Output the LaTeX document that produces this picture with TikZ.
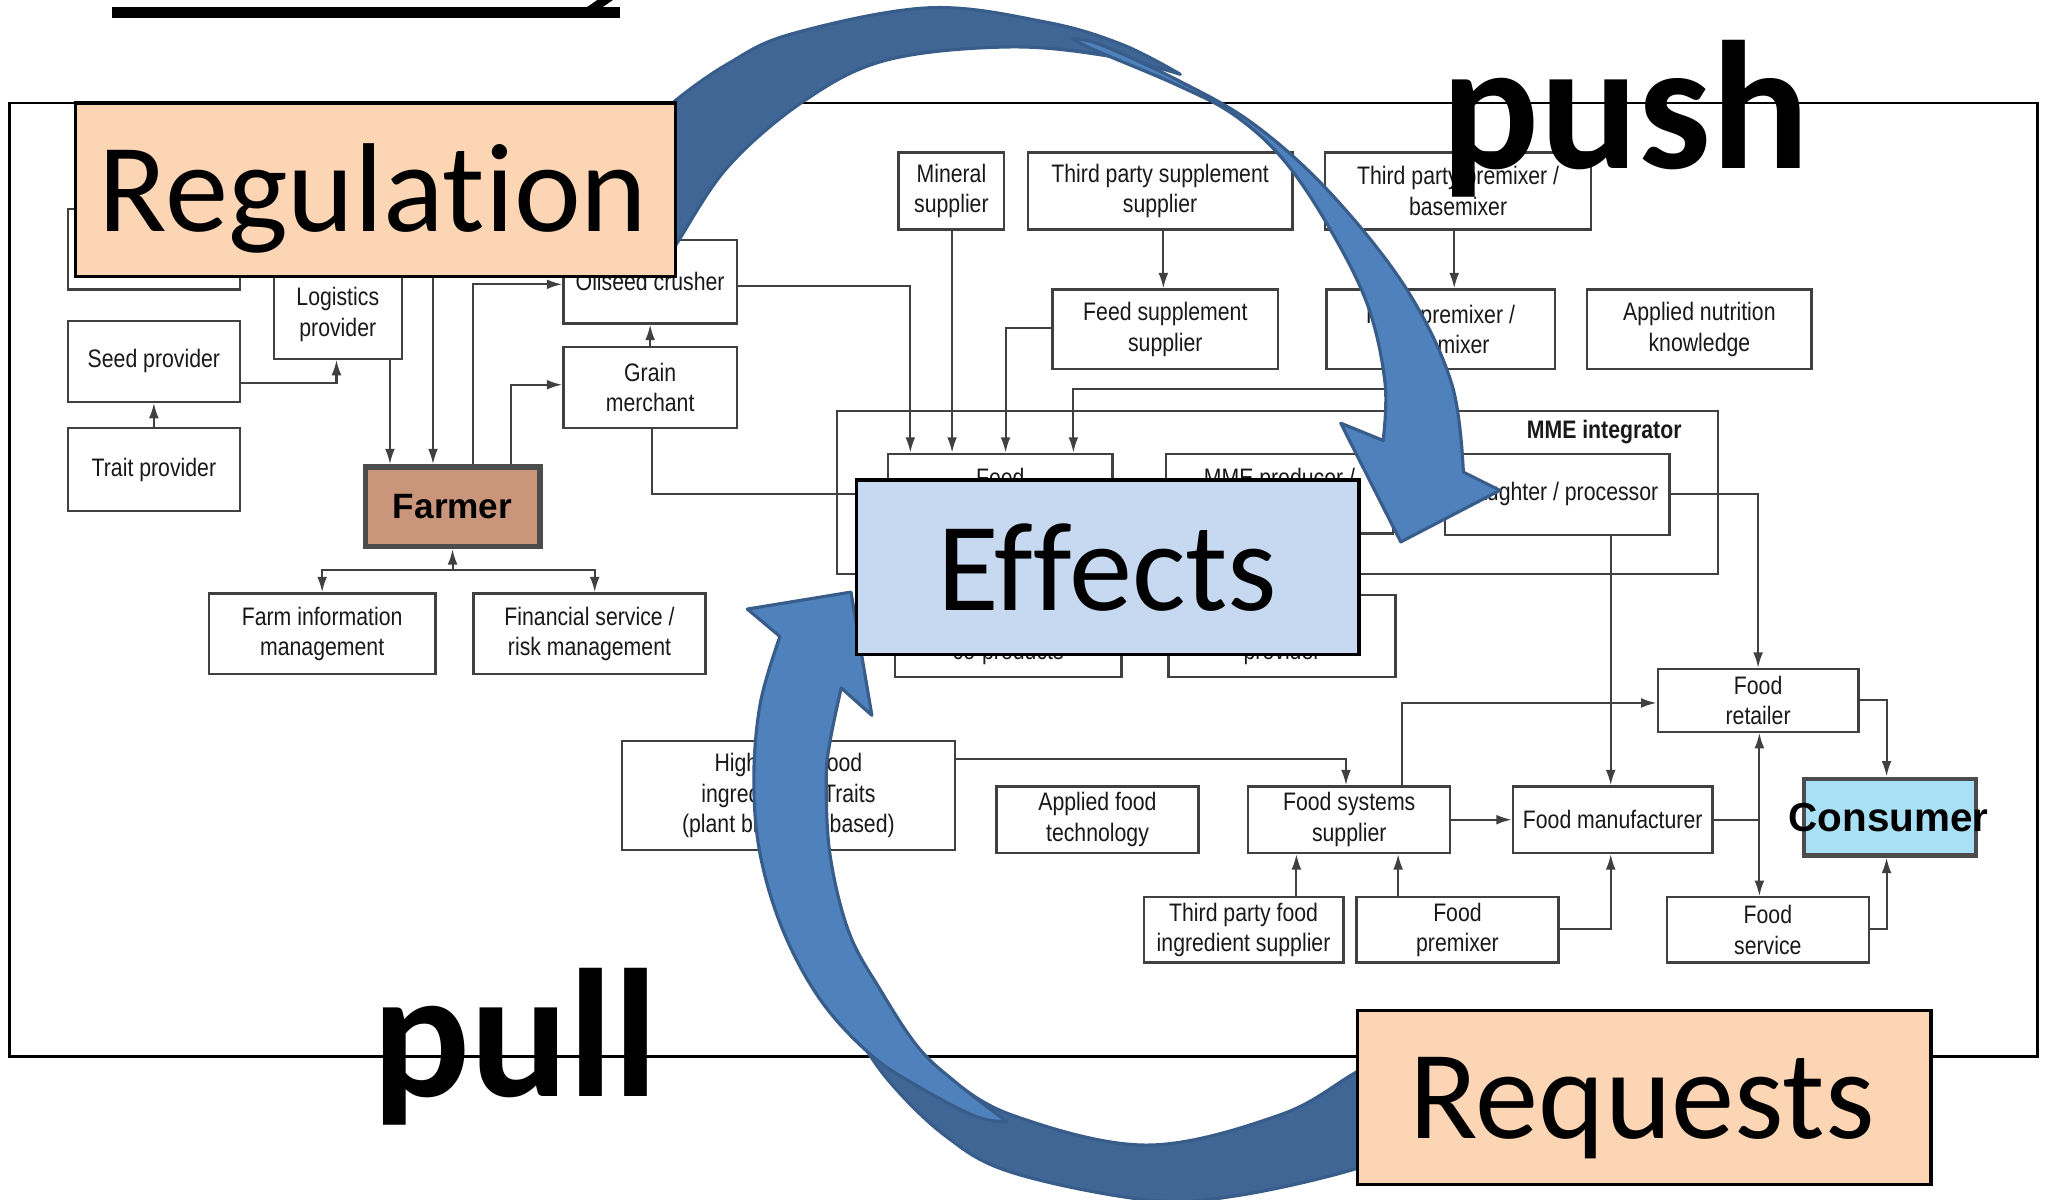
\documentclass[tikz,border=0pt]{standalone}
\usepackage{fontspec}
\setmainfont{Carlito}
\newfontfamily\chartfont[FakeStretch=0.84]{Liberation Sans}
\newfontfamily\labelfont{Liberation Sans}
\usetikzlibrary{arrows.meta,positioning}

\definecolor{peach}{RGB}{252,213,180}
\definecolor{effblue}{RGB}{198,217,241}
\definecolor{arrowfront}{RGB}{79,129,189}
\definecolor{arrowback}{RGB}{64,102,150}
\definecolor{arrowedge}{RGB}{56,93,138}
\definecolor{farmbrown}{RGB}{201,150,124}
\definecolor{consblue}{RGB}{168,224,245}

\tikzset{
  boxsize/.style 2 args={minimum width={#1*0.13042mm}, minimum height={#2*0.13042mm}},
  chartbox/.style={draw=black!75, line width=0.65pt, fill=white, inner sep=0pt,
    align=center, text=black!90, font=\chartfont\fontsize{7.2}{8.7}\selectfont},
  chartline/.style={draw=black!75, line width=0.6pt},
  flow/.style={chartline, -{Latex[length=4.4pt,width=2.8pt]}},
  chartword/.style={inner sep=0pt, anchor=base, text=black!90,
    font=\chartfont\fontsize{7.2}{8.7}\selectfont},
  bigbox/.style={draw=black, line width=0.9pt, inner sep=0pt},
  bigword/.style={inner sep=0pt, anchor=base, font=\fontsize{36}{40}\selectfont},
  boldword/.style={inner sep=0pt, anchor=base west, font=\bfseries\fontsize{52}{56}\selectfont},
  backband/.style={fill=arrowback, draw=arrowedge, line width=0.9pt, line join=round},
  frontband/.style={fill=arrowfront, draw=arrowedge, line width=0.9pt, line join=round}
}

\begin{document}
\begin{tikzpicture}[x=0.13042mm, y=-0.13042mm]
  \useasboundingbox (0,0) rectangle (1568,920);

  % Cut title above
    \fill (86,5.5) rectangle (475.5,14);
    \fill (458,0) -- (470,0) -- (462,5.5) -- (450,5.5) -- cycle;

  % Frame round the chain
    \draw[line width=0.8pt] (7,79) rectangle (1562,810);

  % Integrator frame
    \node[chartbox, fill=none, boxsize={675}{125}] (integ) at (979.5,377.5) {};
    \node[chartword, font=\chartfont\bfseries\fontsize{7.2}{8.7}\selectfont] (integlbl) at (1230,336) {MME integrator};

  % Farm side boxes
    \node[chartbox, boxsize={132}{62}] (inputs) at (118,191) {};
    \node[chartbox, boxsize={132}{62}] (seed) at (118,277) {Seed provider};
    \node[chartbox, boxsize={132}{64}] (trait) at (118,360) {Trait provider};
    \node[chartbox, boxsize={98}{68}] (logi) at (259,241) {Logistics\\provider};
    \node[chartbox, boxsize={133}{64}] (oil) at (498.5,216) {Oilseed crusher};
    \node[chartbox, boxsize={133}{62}] (grain) at (498.5,297) {Grain\\merchant};
    \node[chartbox, boxsize={174}{62}] (fim) at (247,486) {Farm information\\management};
    \node[chartbox, boxsize={178}{62}] (fin) at (452,486) {Financial service /\\risk management};
    \node[chartbox, boxsize={134}{61}, fill=farmbrown, draw=black!70, line width=1.5pt, text=black,
      font=\labelfont\bfseries\fontsize{10}{12}\selectfont] (farmer) at (347,388.5) {Farmer};

  % Feed side boxes
    \node[chartbox, boxsize={81}{59}] (mineral) at (729.5,146.5) {Mineral\\supplier};
    \node[chartbox, boxsize={203}{59}] (tpss) at (889.5,146.5) {Third party supplement\\supplier};
    \node[chartbox, boxsize={204}{59}] (tppm) at (1118,146.5) {Third party premixer /\\basemixer};
    \node[chartbox, boxsize={173}{61}] (fss) at (893.5,252.5) {Feed supplement\\supplier};
    \node[chartbox, boxsize={175}{61}] (prem) at (1104.5,252.5) {Feed premixer /\\basemixer};
    \node[chartbox, boxsize={172}{61}] (ank) at (1303,252.5) {Applied nutrition\\knowledge};
    \node[chartbox, boxsize={172}{62}] (feed) at (767,379) {};
    \node[chartbox, boxsize={174}{61}] (mmep) at (981,378.5) {};
    \node[chartbox, boxsize={172}{62}] (slau) at (1194,379) {Slaughter / processor};
    \node[chartbox, boxsize={174}{63}] (coprod) at (773,487.5) {};
    \node[chartbox, boxsize={174}{63}] (provd) at (983,487.5) {};
    \node[chartword] (feedtxt) at (767,373) {Feed};
    \node[chartword] (mmeptxt) at (981,373) {MME producer /};
    \node[chartword] (coprodtxt) at (773,506) {co-products};
    \node[chartword] (provdtxt) at (983,506) {provider};

  % Food side boxes
    \node[chartbox, boxsize={255}{84}] (high) at (604.5,610) {High value food\\ingredients / Traits\\(plant breeding based)};
    \node[chartbox, boxsize={155}{51}] (aft) at (841.5,628.5) {Applied food\\technology};
    \node[chartbox, boxsize={155}{51}] (fsys) at (1034.5,628.5) {Food systems\\supplier};
    \node[chartbox, boxsize={153}{51}] (fman) at (1236.5,628.5) {Food manufacturer};
    \node[chartbox, boxsize={154}{48}] (fret) at (1348,537) {Food\\retailer};
    \node[chartbox, boxsize={153}{50}] (tpfi) at (953.5,713) {Third party food\\ingredient supplier};
    \node[chartbox, boxsize={155}{50}] (fprem) at (1117.5,713) {Food\\premixer};
    \node[chartbox, boxsize={155}{50}] (fserv) at (1355.5,713) {Food\\service};
    \node[chartbox, boxsize={132}{59}, fill=consblue, draw=black!70, line width=1.2pt] (cons) at (1449,626.5) {};

  % Left side links
    \draw[flow] (trait) -- (seed);
    \draw[flow] (seed.east |- 0,294) -| (logi.south -| 258,0);
    \draw[flow] (inputs.east |- 0,190) -| (farmer.north -| 332,0);
    \draw[flow] (logi.south -| 299,0) -- (farmer.north -| 299,0);
    \draw[flow] (farmer.north -| 363,0) |- (oil.west |- 0,218);
    \draw[flow] (farmer.north -| 392,0) |- (grain.west |- 0,295);
    \draw[flow] (grain) -- (oil);
    \draw[flow] (grain.south -| 500,0) |- (feed.west |- 0,379);
    \coordinate (fork) at (347,437);
    \draw[flow] (fork) -- (farmer.south -| fork);
    \draw[flow] (fork) -| (fim.north -| 247,0);
    \draw[flow] (fork) -| (fin.north -| 456,0);

  % Feed links
    \draw[flow] (oil.east |- 0,219) -| (feed.north -| 698,0);
    \draw[flow] (fss.west |- 0,251.5) -| (feed.north -| 771,0);
    \coordinate (premdrop) at (1080,298);
    \draw[flow] (prem.south -| premdrop) -- (premdrop) -| (feed.north -| 823,0);
    \foreach \from/\to/\x in {mineral/feed/730, tpss/fss/892, tppm/prem/1115, slau/fman/1235} {
      \draw[flow] (\from.south -| \x,0) -- (\to.north -| \x,0);
    }
    \draw[flow] (slau.east |- 0,378.5) -| (fret.north -| 1348,0);

  % Food links
    \draw[flow] (high.east |- 0,582) -| (fsys.north -| 1032,0);
    \draw[flow] (fsys) -- (fman);
    \draw[flow] (fsys.north -| 1075,0) |- (fret.west |- 0,539);
    \foreach \from/\to/\x in {tpfi/fsys/994, fprem/fsys/1072} {
      \draw[flow] (\from.north -| \x,0) -- (\to.south -| \x,0);
    }
    \draw[flow] (fprem.east |- 0,712) -| (fman.south -| 1235,0);
    \coordinate (split) at (1349,629);
    \draw[chartline] (fman.east |- split) -- (split);
    \draw[flow] (split) -- (fret.south -| split);
    \draw[flow] (split) -- (fserv.north -| split);
    \draw[flow] (fret.east |- 0,537) -| (cons.north -| 1446.5,0);
    \draw[flow] (fserv.east |- 0,712) -| (cons.south -| 1446.5,0);
    \node[inner sep=0pt, font=\labelfont\bfseries\fontsize{11.5}{13}\selectfont] (constxt) at (1448,627) {Consumer};

  % Pull arrow
    \draw[backband]
      plot[smooth, tension=0.6] coordinates {(650,782) (680,827) (725,871) (776,899) (879,920) (947,917) (1040,896) (1095,872)}
      -- (1095,790)
      --plot[smooth, tension=0.6] coordinates {(1095,790) (1040,822) (981,855) (879,878) (776,855) (720,822) (680,798) (650,782)}
      -- cycle;
    \draw[frontband]
      plot[smooth, tension=0.6] coordinates {(772,860) (748,856) (704,833) (668,809) (630,768) (601,715) (583,656) (578,598) (583,539) (598,488)}
      -- (573,467) -- (652.5,454) -- (668.5,548.5) -- (645,527.5)
      --plot[smooth, tension=0.6] coordinates {(645,527.5) (636.5,568) (633.5,598) (636.5,656) (651,715) (675,759) (704,803) (733,830) (772,860)}
      -- cycle;

  % Push arrow
    \draw[backband]
      plot[smooth, tension=0.6] coordinates {(505,92) (518,77) (558,49) (607,26) (712,6) (802,17) (860,34) (905,57)}
      --plot[smooth, tension=0.6] coordinates {(905,57) (850,43) (773,36) (680,46) (617,77) (558,128) (518,188) (505,205)}
      -- cycle;
    \draw[frontband]
      plot[smooth, tension=0.6] coordinates {(822,30) (843,34) (902,61) (961,95) (1020,148) (1078,221) (1113,294) (1122,362)}
      -- (1150,376) -- (1074,415.5) -- (1028,324.5) -- (1060.5,337.7)
      --plot[smooth, tension=0.6] coordinates {(1060.5,337.7) (1062,294) (1049,235) (1020,176) (984.5,123) (946,88) (902,65) (843,40) (822,30)}
      -- cycle;

  % Big boxes
    \node[bigbox, fill=peach, boxsize={460}{133}] (reg) at (288,145.5) {};
    \node[bigword] (regtxt) at (286,177.6) {Regulat\kern0pt ion};
    \node[bigbox, fill=effblue, boxsize={385}{134}] (eff) at (849.5,435) {};
    \node[bigword] (efftxt) at (849,468) {Ef\kern0pt fects};
    \node[bigbox, fill=peach, boxsize={439.6}{133}] (req) at (1260.8,841.5) {};
    \node[bigword] (reqtxt) at (1259,872.6) {Requests};

  % Push and pull
    \node[boldword] (pushtxt) at (1105,129) {push};
    \node[boldword] (pulltxt) at (285,841) {pull};

\end{tikzpicture}
\end{document}
